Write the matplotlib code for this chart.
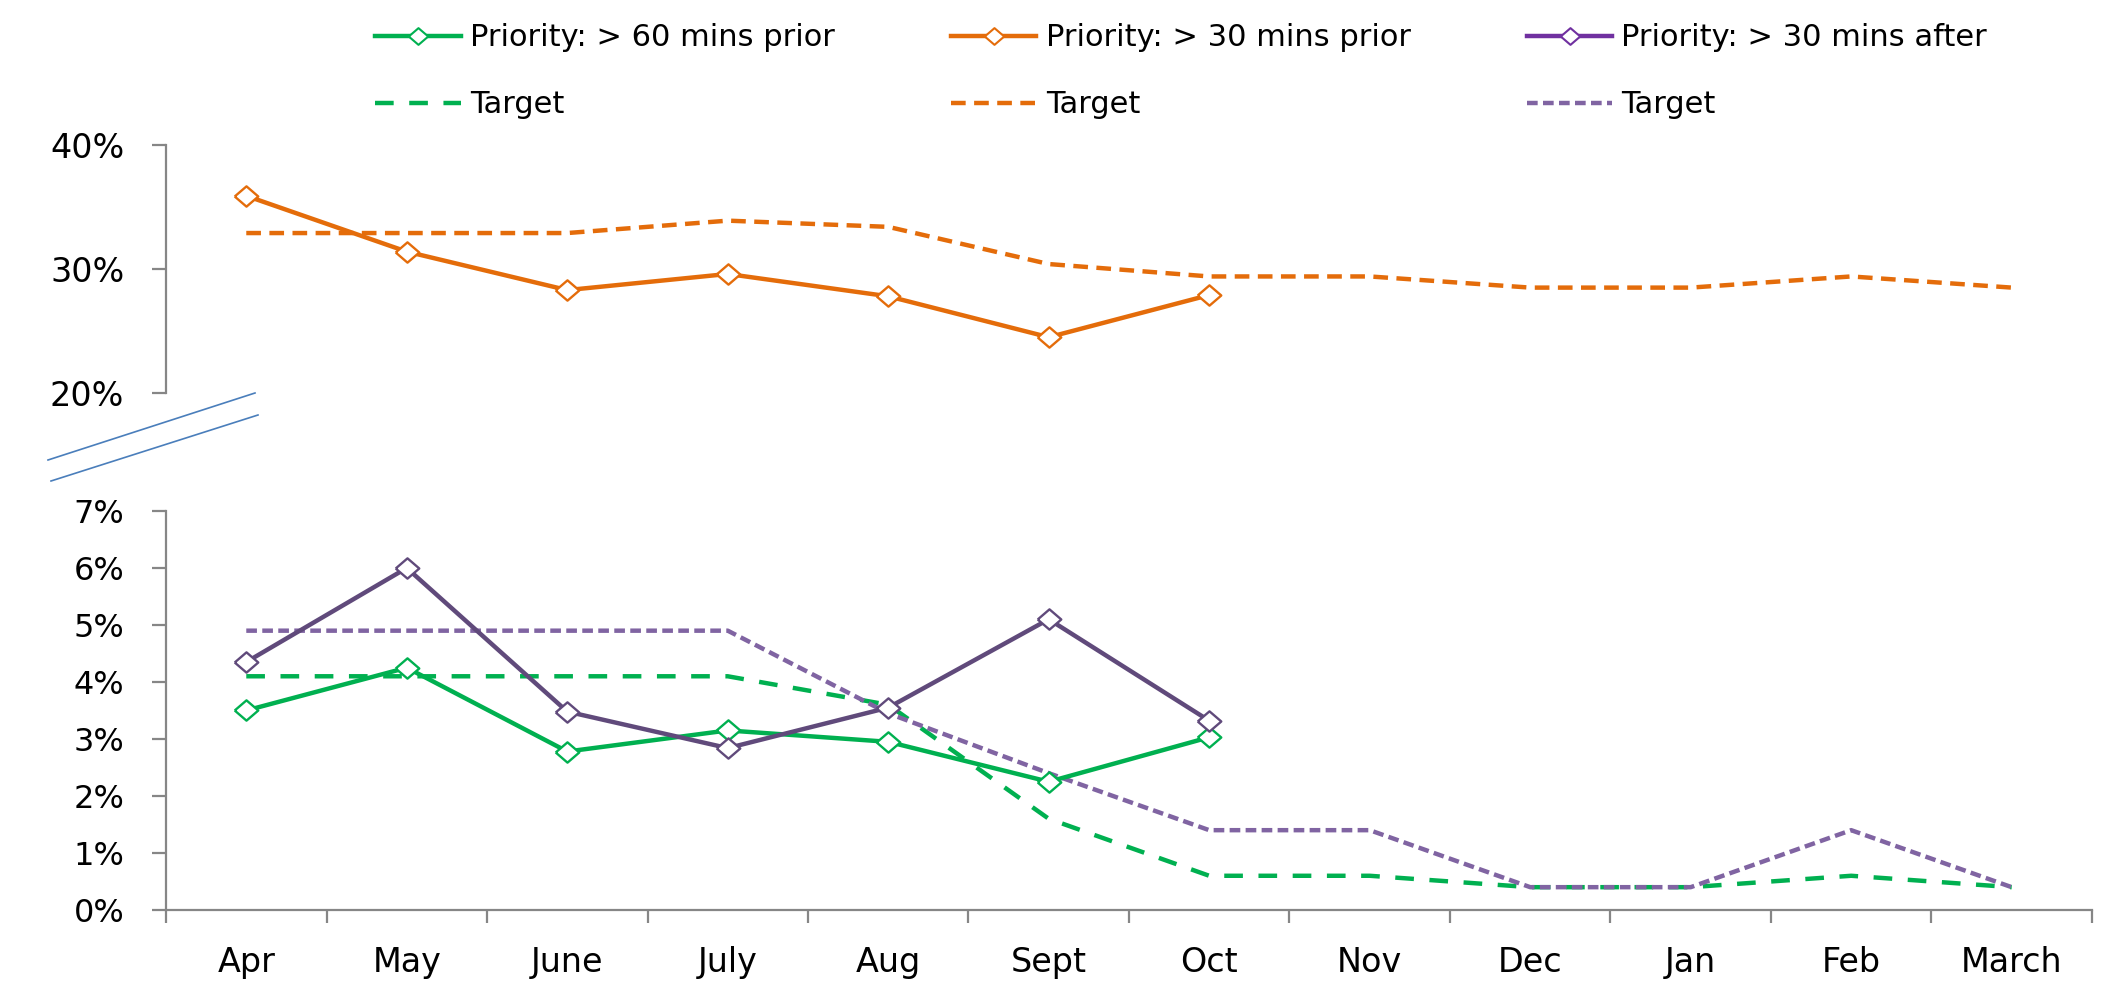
import matplotlib
matplotlib.use("Agg")
import matplotlib.pyplot as plt
from matplotlib.lines import Line2D
from matplotlib.ticker import FixedLocator, FuncFormatter

# Monthly on-time figures (percent)
months = ["Apr", "May", "June", "July", "Aug", "Sept", "Oct",
          "Nov", "Dec", "Jan", "Feb", "March"]

prior60 = [3.5, 4.25, 2.78, 3.15, 2.95, 2.25, 3.03]
prior60_target = [4.1, 4.1, 4.1, 4.1, 3.6, 1.6, 0.6, 0.6, 0.4, 0.4, 0.6, 0.4]

prior30 = [35.9, 31.4, 28.3, 29.6, 27.8, 24.5, 27.9]
prior30_target = [32.9, 32.9, 32.9, 33.9, 33.4, 30.4, 29.4, 29.4, 28.5, 28.5, 29.4, 28.5]

after30 = [4.35, 6.0, 3.48, 2.84, 3.55, 5.1, 3.32]
after30_target = [4.9, 4.9, 4.9, 4.9, 3.45, 2.4, 1.4, 1.4, 0.4, 0.4, 1.4, 0.4]

GREEN = "#00B050"
ORANGE = "#E46C0A"
PURPLE = "#604A7B"
PURPLE_LEG = "#7030A0"
PURPLE_T = "#8064A2"
AXIS_GREY = "#868686"
BREAK_BLUE = "#4A7EBB"

plt.rcParams["font.family"] = ["DejaVu Sans"]

# slightly wide diamond marker
DIAMOND = [(-1, 0), (0, 0.86), (1, 0), (0, -0.86), (-1, 0)]

fig = plt.figure(figsize=(21.15, 9.98), dpi=100)
ax_top = fig.add_axes([0.0785, 0.6062, 0.9106, 0.2485])
ax_bot = fig.add_axes([0.0785, 0.0882, 0.9106, 0.3998])

x_all = list(range(len(months)))
x_act = list(range(len(prior60)))

LW = 3.2
mk = dict(marker=DIAMOND, markersize=17, markerfacecolor="white",
          markeredgewidth=1.7)

# upper panel: >30 mins prior
ax_top.plot(x_all, prior30_target, color=ORANGE, lw=LW, dashes=(3.3, 1.9))
ax_top.plot(x_act, prior30, color=ORANGE, lw=LW, markeredgecolor=ORANGE, **mk)

# lower panel: >60 mins prior and >30 mins after
ax_bot.plot(x_all, prior60_target, color=GREEN, lw=LW, dashes=(4.2, 3.5))
ax_bot.plot(x_all, after30_target, color=PURPLE_T, lw=LW, dashes=(2.4, 1.2))
ax_bot.plot(x_act, prior60, color=GREEN, lw=LW, markeredgecolor=GREEN, **mk)
ax_bot.plot(x_act, after30, color=PURPLE, lw=LW, markeredgecolor=PURPLE, **mk)

pct = FuncFormatter(lambda v, _: f"{v:.0f}%")

for ax in (ax_top, ax_bot):
    ax.set_xlim(-0.5, len(months) - 0.5)
    for s in ("top", "right"):
        ax.spines[s].set_visible(False)
    ax.spines["left"].set_color(AXIS_GREY)
    ax.spines["left"].set_linewidth(1.6)
    ax.yaxis.set_major_formatter(pct)
    ax.tick_params(axis="y", direction="out", length=10, width=1.6,
                   color=AXIS_GREY, pad=20, labelsize=23)

ax_top.set_ylim(20, 40)
ax_top.set_yticks([20, 30, 40])
ax_top.spines["bottom"].set_visible(False)
ax_top.set_xticks([])
ax_top.tick_params(axis="y", labelsize=24)

ax_bot.set_ylim(0, 7)
ax_bot.set_yticks(range(0, 8))
ax_bot.spines["bottom"].set_color(AXIS_GREY)
ax_bot.spines["bottom"].set_linewidth(1.6)
ax_bot.xaxis.set_major_locator(FixedLocator([i - 0.5 for i in range(len(months) + 1)]))
ax_bot.xaxis.set_major_formatter(FuncFormatter(lambda v, _: ""))
ax_bot.xaxis.set_minor_locator(FixedLocator(x_all))
ax_bot.set_xticklabels(months, minor=True)
ax_bot.tick_params(axis="x", which="major", direction="out", length=9,
                   width=1.6, color=AXIS_GREY)
ax_bot.tick_params(axis="x", which="minor", length=0, pad=26, labelsize=24)

# axis break marks between the two panels
for (x0, y0, x1, y1) in [(48, 460, 255, 393), (51, 481, 258, 415)]:
    fig.add_artist(Line2D([x0 / 2115, x1 / 2115], [1 - y0 / 998, 1 - y1 / 998],
                          color=BREAK_BLUE, lw=1.2, transform=fig.transFigure))

# legend
leg_mk = dict(marker=DIAMOND, markersize=14, markerfacecolor="white",
              markeredgewidth=1.5)
handles = [
    Line2D([], [], color=GREEN, lw=LW, markeredgecolor=GREEN, **leg_mk),
    Line2D([], [], color=GREEN, lw=LW, dashes=(4.2, 3.5)),
    Line2D([], [], color=ORANGE, lw=LW, markeredgecolor=ORANGE, **leg_mk),
    Line2D([], [], color=ORANGE, lw=LW, dashes=(3.3, 1.9)),
    Line2D([], [], color=PURPLE_LEG, lw=LW, markeredgecolor=PURPLE_LEG, **leg_mk),
    Line2D([], [], color=PURPLE_T, lw=LW, dashes=(2.4, 1.2)),
]
labels = ["Priority: > 60 mins prior", "Target",
          "Priority: > 30 mins prior", "Target",
          "Priority: > 30 mins after", "Target"]
fig.legend(handles, labels, ncol=3, loc="upper left",
           bbox_to_anchor=(363 / 2115, 0.989), frameon=False, fontsize=22,
           handlelength=2.8, handletextpad=0.3, columnspacing=3.8,
           labelspacing=1.25, borderaxespad=0.0, borderpad=0.4)

fig.savefig("out.png", dpi=100)
